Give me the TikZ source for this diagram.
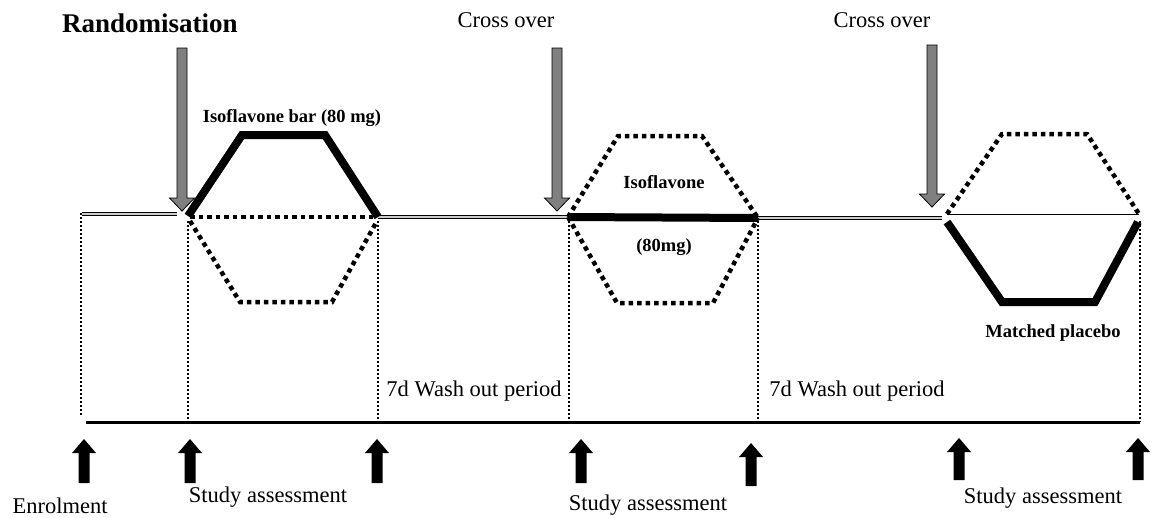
\documentclass[tikz,border=0pt]{standalone}
\usepackage{fontspec}
\setmainfont{Liberation Serif}
\usetikzlibrary{calc}

\tikzset{
  armline/.style={line width=8pt, line join=miter},
  dotarm/.style={line width=4.5pt, dash pattern=on 4.5pt off 4pt},
  guide/.style={line width=2pt, dash pattern=on 2pt off 2pt},
  twinline/.style={double=gray!40, double distance=1.3pt, line width=1.1pt},
  bigtext/.style={font=\fontsize{22.5}{26}\selectfont},
  armtext/.style={font=\fontsize{18.5}{22}\selectfont\bfseries},
}
\definecolor{arrowgray}{RGB}{128,128,128}

\newcommand{\grayarrow}[3]{%
  \filldraw[fill=arrowgray, draw=black, line width=0.8pt]
    ({#1-5},#2) -- ({#1+5},#2) -- ({#1+5},{#3-13}) -- ({#1+12.5},{#3-13})
    -- (#1,#3) -- ({#1-12.5},{#3-13}) -- ({#1-5},{#3-13}) -- cycle;}
\newcommand{\blackarrow}[3]{%
  \fill ({#1-5.5},#3) -- ({#1+5.5},#3) -- ({#1+5.5},{#2+14}) -- ({#1+12},{#2+14})
    -- (#1,#2) -- ({#1-12},{#2+14}) -- ({#1-5.5},{#2+14}) -- cycle;}

\begin{document}
\begin{tikzpicture}[x=1pt, y=-1pt]
\useasboundingbox (0,0) rectangle (1154,517);

\coordinate (E) at (81,213);
\coordinate (A1) at (188,216);
\coordinate (B1) at (378,217);
\coordinate (A2) at (568,217);
\coordinate (B2) at (758,218);
\coordinate (A3) at (947,214);
\coordinate (B3) at (1139,214);

\draw[twinline] (82,214) -- (177,214);
\draw[twinline] (B1) -- (A2);
\draw[twinline] (B2) -- (942,218);

\draw[armline] (A1) -- (242,135) -- (325,135) -- (B1);
\draw[dotarm] (190,217) -- (376,217);
\draw[dotarm] (190,221) -- (240,302) -- (332,302) -- (377,221);

\draw[dotarm] (A2) -- (618,136) -- (702,136) -- (B2);
\draw[dotarm] (A2) -- (617,303) -- (713,303) -- (B2);
\draw[armline] (A2) -- (B2);

\draw[dotarm] (A3) -- (1002,134) -- (1087,134) -- (B3);
\draw[line width=1pt] (A3) -- (B3);
\draw[armline] (947,222) -- (1002,302) -- (1095,302) -- (1138,222);

\draw[guide] (E) -- (81,415);
\foreach \x in {188,378,569,758,1140}
  \draw[guide] (\x,221) -- (\x,422);
\draw[line width=3pt] (86,422) -- (1140,422);

\grayarrow{182}{48}{211}
\grayarrow{557}{48}{211}
\grayarrow{932}{45}{207}

\blackarrow{84}{439}{483}
\blackarrow{190}{439}{483}
\blackarrow{377}{439}{483}
\blackarrow{581}{439}{483}
\blackarrow{751}{443}{486}
\blackarrow{959}{438}{480}
\blackarrow{1138}{438}{480}

\node[font=\fontsize{27}{30}\selectfont\bfseries] (rand) at (150,23) {Randomisation};
\node[bigtext] (cross1) at (506,20) {Cross over};
\node[bigtext] (cross2) at (882,20) {Cross over};
\node[armtext] (iso1) at (292,118) {Isoflavone bar (80 mg)};
\node[armtext] (iso2) at (664,182) {Isoflavone};
\node[armtext] (dose2) at (664,247) {(80mg)};
\node[armtext] (plac) at (1053,333) {Matched placebo};
\node[bigtext] (wash1) at (474,391) {7d Wash out period};
\node[bigtext] (wash2) at (857,391) {7d Wash out period};
\node[bigtext] (enrol) at (60,506) {Enrolment};
\node[bigtext] (assess1) at (268,497) {Study assessment};
\node[bigtext] (assess2) at (648,505) {Study assessment};
\node[bigtext] (assess3) at (1043,498) {Study assessment};
\end{tikzpicture}
\end{document}
